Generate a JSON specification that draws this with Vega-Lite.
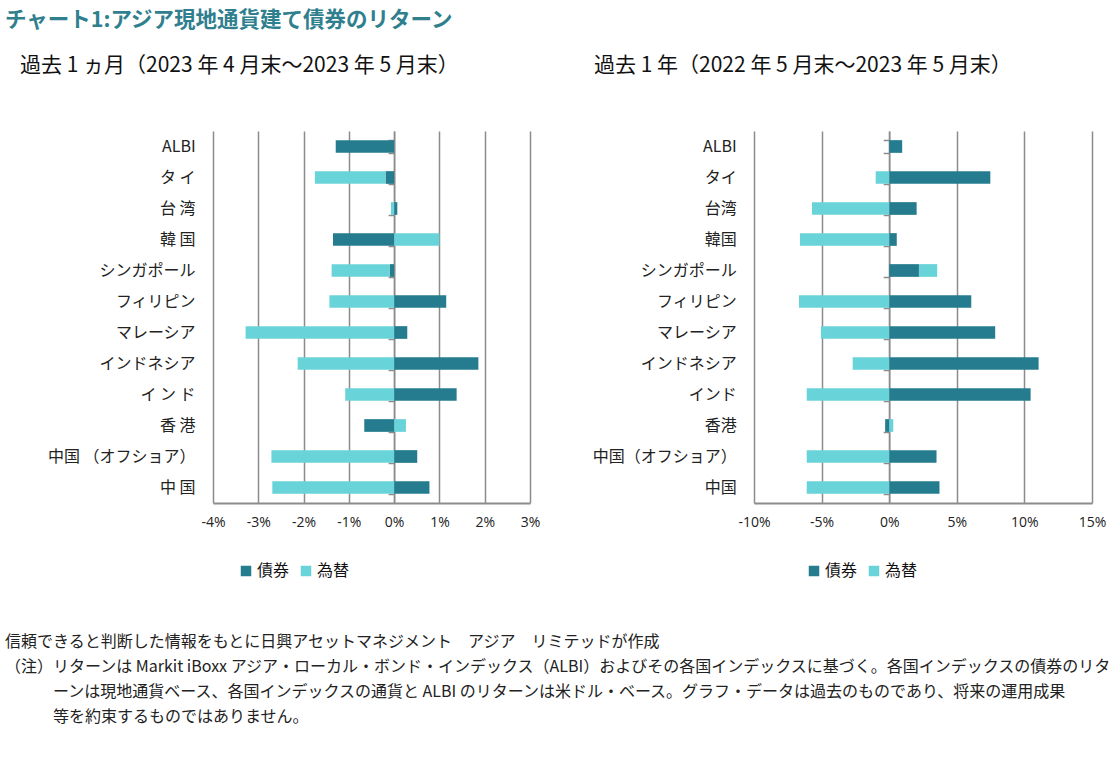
{
  "$schema": "https://vega.github.io/schema/vega-lite/v6.json",
  "background": "white",
  "padding": {"left": 5, "top": 9, "right": 5, "bottom": 5},
  "config": {"view": {"stroke": null}, "font": "Noto Sans CJK JP"},
  "title": {"text": "チャート1:アジア現地通貨建て債券のリターン", "anchor": "start", "fontSize": 21.5, "fontWeight": "bold", "color": "#2f7f8f", "font": "Noto Sans CJK JP", "offset": 24},
  "datasets": {
    "m1": [
      {"label": "ALBI", "type": "債券", "s": 1, "value": -1.29},
      {"label": "タ イ", "type": "債券", "s": 1, "value": -0.19},
      {"label": "タ イ", "type": "為替", "s": 2, "value": -1.56},
      {"label": "台 湾", "type": "債券", "s": 1, "value": 0.07},
      {"label": "台 湾", "type": "為替", "s": 2, "value": -0.07},
      {"label": "韓 国", "type": "債券", "s": 1, "value": -1.35},
      {"label": "韓 国", "type": "為替", "s": 2, "value": 1.0},
      {"label": "シンガポール", "type": "債券", "s": 1, "value": -0.1},
      {"label": "シンガポール", "type": "為替", "s": 2, "value": -1.28},
      {"label": "フィリピン", "type": "債券", "s": 1, "value": 1.15},
      {"label": "フィリピン", "type": "為替", "s": 2, "value": -1.43},
      {"label": "マレーシア", "type": "債券", "s": 1, "value": 0.29},
      {"label": "マレーシア", "type": "為替", "s": 2, "value": -3.28},
      {"label": "インドネシア", "type": "債券", "s": 1, "value": 1.86},
      {"label": "インドネシア", "type": "為替", "s": 2, "value": -2.13},
      {"label": "イ ン ド", "type": "債券", "s": 1, "value": 1.38},
      {"label": "イ ン ド", "type": "為替", "s": 2, "value": -1.08},
      {"label": "香 港", "type": "債券", "s": 1, "value": -0.66},
      {"label": "香 港", "type": "為替", "s": 2, "value": 0.26},
      {"label": "中国 （オフショア）", "type": "債券", "s": 1, "value": 0.51},
      {"label": "中国 （オフショア）", "type": "為替", "s": 2, "value": -2.71},
      {"label": "中 国", "type": "債券", "s": 1, "value": 0.78},
      {"label": "中 国", "type": "為替", "s": 2, "value": -2.69}
    ],
    "y1": [
      {"label": "ALBI", "type": "債券", "s": 1, "value": 0.96},
      {"label": "タイ", "type": "債券", "s": 1, "value": 7.48},
      {"label": "タイ", "type": "為替", "s": 2, "value": -1.0},
      {"label": "台湾", "type": "債券", "s": 1, "value": 2.03},
      {"label": "台湾", "type": "為替", "s": 2, "value": -5.71},
      {"label": "韓国", "type": "債券", "s": 1, "value": 0.56},
      {"label": "韓国", "type": "為替", "s": 2, "value": -6.6},
      {"label": "シンガポール", "type": "債券", "s": 1, "value": 2.2},
      {"label": "シンガポール", "type": "為替", "s": 2, "value": 1.35},
      {"label": "フィリピン", "type": "債券", "s": 1, "value": 6.07},
      {"label": "フィリピン", "type": "為替", "s": 2, "value": -6.67},
      {"label": "マレーシア", "type": "債券", "s": 1, "value": 7.84},
      {"label": "マレーシア", "type": "為替", "s": 2, "value": -5.05},
      {"label": "インドネシア", "type": "債券", "s": 1, "value": 11.05},
      {"label": "インドネシア", "type": "為替", "s": 2, "value": -2.7},
      {"label": "インド", "type": "債券", "s": 1, "value": 10.46},
      {"label": "インド", "type": "為替", "s": 2, "value": -6.1},
      {"label": "香港", "type": "債券", "s": 1, "value": -0.3},
      {"label": "香港", "type": "為替", "s": 2, "value": 0.3},
      {"label": "中国（オフショア）", "type": "債券", "s": 1, "value": 3.5},
      {"label": "中国（オフショア）", "type": "為替", "s": 2, "value": -6.1},
      {"label": "中国", "type": "債券", "s": 1, "value": 3.72},
      {"label": "中国", "type": "為替", "s": 2, "value": -6.1}
    ]
  },
  "vconcat": [
    {
      "bounds": "flush",
      "spacing": 224,
      "resolve": {"scale": {"color": "independent"}, "legend": {"color": "independent"}},
      "title": {
        "text": [
          "信頼できると判断した情報をもとに日興アセットマネジメント　アジア　リミテッドが作成",
          "（注）リターンは Markit iBoxx アジア・ローカル・ボンド・インデックス（ALBI）およびその各国インデックスに基づく。各国インデックスの債券のリタ",
          "\u200b　　　ーンは現地通貨ベース、各国インデックスの通貨と ALBI のリターンは米ドル・ベース。グラフ・データは過去のものであり、将来の運用成果",
          "\u200b　　　等を約束するものではありません。"
        ],
        "orient": "bottom", "anchor": "start", "frame": "group", "dx": -208,
        "fontSize": 16, "fontWeight": "normal", "lineHeight": 25, "offset": 55, "color": "#222", "font": "Noto Sans CJK JP"
      },
      "hconcat": [
        {
          "data": {"name": "m1"},
          "width": 317,
          "height": 372,
          "title": {"text": "過去 1 ヵ月（2023 年 4 月末～2023 年 5 月末）", "anchor": "start", "frame": "group", "dx": -193, "fontSize": 21, "fontWeight": "normal", "color": "#111", "font": "Noto Sans CJK JP", "offset": 47},
          "mark": {"type": "bar"},
          "encoding": {
            "y": {
              "field": "label", "type": "nominal",
              "sort": ["ALBI", "タ イ", "台 湾", "韓 国", "シンガポール", "フィリピン", "マレーシア", "インドネシア", "イ ン ド", "香 港", "中国 （オフショア）", "中 国"],
              "scale": {"paddingInner": 0.59, "paddingOuter": 0.295},
              "axis": {"title": null, "orient": "left", "offset": -181.1, "domainColor": "#8c8c8c", "domainWidth": 1.5, "ticks": true, "tickBand": "extent", "tickSize": 6, "tickColor": "#8c8c8c", "tickWidth": 1.5, "labelPadding": 193, "labelFontSize": 16, "labelColor": "#222", "labelFont": "Noto Sans CJK JP", "grid": false}
            },
            "x": {
              "field": "value", "type": "quantitative", "stack": "zero",
              "scale": {"domain": [-4, 3], "nice": false},
              "axis": {"title": null, "values": [-4, -3, -2, -1, 0, 1, 2, 3], "labelExpr": "datum.value + '%'", "labelFlush": false, "grid": true, "gridColor": "#8c8c8c", "gridWidth": 1.5, "domainColor": "#8c8c8c", "domainWidth": 2, "ticks": false, "labelPadding": 12, "labelFontSize": 14, "labelColor": "#222", "labelFont": "Open Sans"}
            },
            "color": {
              "field": "type", "type": "nominal",
              "scale": {"domain": ["債券", "為替"], "range": ["#267c8f", "#68d3d8"]},
              "legend": {"orient": "none", "legendX": 25, "legendY": 432, "direction": "horizontal", "title": null, "symbolType": "square", "symbolSize": 110, "symbolStrokeWidth": 0, "labelFontSize": 16, "labelColor": "#111", "labelFont": "Noto Sans CJK JP", "labelOffset": 3, "columnPadding": 8}
            },
            "order": {"field": "s", "type": "quantitative"}
          }
        },
        {
          "data": {"name": "y1"},
          "width": 338,
          "height": 372,
          "title": {"text": "過去 1 年（2022 年 5 月末～2023 年 5 月末）", "anchor": "start", "frame": "group", "dx": -160, "fontSize": 21, "fontWeight": "normal", "color": "#111", "font": "Noto Sans CJK JP", "offset": 47},
          "mark": {"type": "bar"},
          "encoding": {
            "y": {
              "field": "label", "type": "nominal",
              "sort": ["ALBI", "タイ", "台湾", "韓国", "シンガポール", "フィリピン", "マレーシア", "インドネシア", "インド", "香港", "中国（オフショア）", "中国"],
              "scale": {"paddingInner": 0.59, "paddingOuter": 0.295},
              "axis": {"title": null, "orient": "left", "offset": -135.2, "domainColor": "#8c8c8c", "domainWidth": 1.5, "ticks": true, "tickBand": "extent", "tickSize": 6, "tickColor": "#8c8c8c", "tickWidth": 1.5, "labelPadding": 147, "labelFontSize": 16, "labelColor": "#222", "labelFont": "Noto Sans CJK JP", "grid": false}
            },
            "x": {
              "field": "value", "type": "quantitative", "stack": "zero",
              "scale": {"domain": [-10, 15], "nice": false},
              "axis": {"title": null, "values": [-10, -5, 0, 5, 10, 15], "labelExpr": "datum.value + '%'", "labelFlush": false, "grid": true, "gridColor": "#8c8c8c", "gridWidth": 1.5, "domainColor": "#8c8c8c", "domainWidth": 2, "ticks": false, "labelPadding": 12, "labelFontSize": 14, "labelColor": "#222", "labelFont": "Open Sans"}
            },
            "color": {
              "field": "type", "type": "nominal",
              "scale": {"domain": ["債券", "為替"], "range": ["#267c8f", "#68d3d8"]},
              "legend": {"orient": "none", "legendX": 52, "legendY": 432, "direction": "horizontal", "title": null, "symbolType": "square", "symbolSize": 110, "symbolStrokeWidth": 0, "labelFontSize": 16, "labelColor": "#111", "labelFont": "Noto Sans CJK JP", "labelOffset": 3, "columnPadding": 8}
            },
            "order": {"field": "s", "type": "quantitative"}
          }
        }
      ]
    }
  ]
}
